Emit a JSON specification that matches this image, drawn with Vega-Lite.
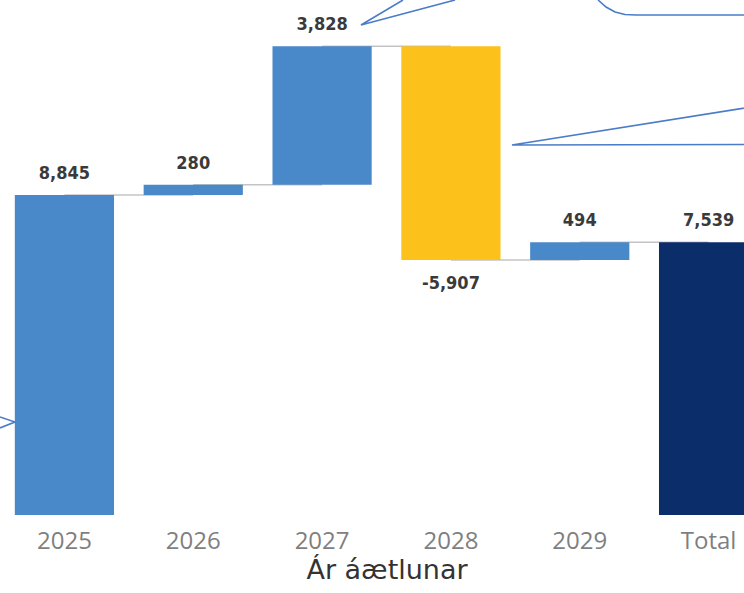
{
  "$schema": "https://vega.github.io/schema/vega-lite/v6.json",
  "width": 773,
  "height": 515,
  "autosize": {"type": "none"},
  "padding": {"top": 0, "left": 0, "right": 0, "bottom": 78},
  "background": "white",
  "config": {"view": {"stroke": null}},
  "datasets": {
    "bars": [
      {"cat": "2025", "start": 0, "end": 8845, "label": "8,845", "kind": "inc", "next": "2026"},
      {"cat": "2026", "start": 8845, "end": 9125, "label": "280", "kind": "inc", "next": "2027"},
      {"cat": "2027", "start": 9125, "end": 12953, "label": "3,828", "kind": "inc", "next": "2028"},
      {"cat": "2028", "start": 12953, "end": 7046, "label": "-5,907", "kind": "dec", "next": "2029"},
      {"cat": "2029", "start": 7046, "end": 7540, "label": "494", "kind": "inc", "next": "Total"},
      {"cat": "Total", "start": 0, "end": 7539, "label": "7,539", "kind": "total", "next": "Total"}
    ],
    "callouts": [
      {"g": "a", "i": 0, "u": 3.128, "v": 14234},
      {"g": "a", "i": 1, "u": 2.802, "v": 13543},
      {"g": "a", "i": 2, "u": 3.532, "v": 14234},
      {"g": "r", "i": 0, "u": 4.642, "v": 14234},
      {"g": "r", "i": 1, "u": 4.704, "v": 14041},
      {"g": "r", "i": 2, "u": 4.774, "v": 13903},
      {"g": "r", "i": 3, "u": 4.851, "v": 13834},
      {"g": "r", "i": 4, "u": 4.937, "v": 13820},
      {"g": "r", "i": 5, "u": 6.0, "v": 13820},
      {"g": "b", "i": 0, "u": 6.0, "v": 11374},
      {"g": "b", "i": 1, "u": 3.974, "v": 10227},
      {"g": "b", "i": 2, "u": 6.0, "v": 10241},
      {"g": "c", "i": 0, "u": 0, "v": 2709},
      {"g": "c", "i": 1, "u": 0.1164, "v": 2570},
      {"g": "c", "i": 2, "u": 0, "v": 2405}
    ]
  },
  "layer": [
    {
      "data": {"name": "bars"},
      "layer": [
        {
          "transform": [{"filter": "datum.kind != 'total'"}],
          "mark": {"type": "rule", "color": "#c4c4c4", "strokeWidth": 1.5},
          "encoding": {
            "x": {
              "field": "cat",
              "type": "nominal",
              "sort": ["2025", "2026", "2027", "2028", "2029", "Total"],
              "scale": {"domain": ["2025", "2026", "2027", "2028", "2029", "Total"], "paddingInner": 0.23, "paddingOuter": 0.115},
              "axis": {
                "orient": "bottom",
                "title": "Ár áætlunar",
                "labelAngle": 0,
                "domain": false,
                "ticks": false,
                "tickSize": 0,
                "labelFont": "Open Sans",
                "labelFontSize": 24,
                "labelColor": "#7f7f7f",
                "labelPadding": 14,
                "titleFont": "DejaVu Sans",
                "titleFontSize": 27,
                "titleFontWeight": "normal",
                "titleColor": "#333333",
                "titlePadding": 4,
                "grid": false
              }
            },
            "x2": {"field": "next"},
            "y": {"field": "end", "type": "quantitative", "scale": {"domain": [0, 14234], "nice": false}, "axis": null}
          }
        },
        {
          "mark": {"type": "bar"},
          "encoding": {
            "x": {"field": "cat", "type": "nominal", "sort": ["2025", "2026", "2027", "2028", "2029", "Total"]},
            "y": {"field": "start", "type": "quantitative"},
            "y2": {"field": "end"},
            "color": {
              "field": "kind",
              "type": "nominal",
              "scale": {"domain": ["inc", "dec", "total"], "range": ["#4a89c9", "#fdc11c", "#0b2d6a"]},
              "legend": null
            }
          }
        },
        {
          "transform": [{"filter": "datum.kind != 'dec'"}],
          "mark": {"type": "text", "baseline": "alphabetic", "dy": -16, "font": "DejaVu Sans Condensed", "fontSize": 18, "fontWeight": "bold", "color": "#3a3a3a"},
          "encoding": {
            "x": {"field": "cat", "type": "nominal", "sort": ["2025", "2026", "2027", "2028", "2029", "Total"]},
            "y": {"field": "end", "type": "quantitative"},
            "text": {"field": "label"}
          }
        },
        {
          "transform": [{"filter": "datum.kind == 'dec'"}],
          "mark": {"type": "text", "baseline": "top", "dy": 15, "font": "DejaVu Sans Condensed", "fontSize": 18, "fontWeight": "bold", "color": "#3a3a3a"},
          "encoding": {
            "x": {"field": "cat", "type": "nominal", "sort": ["2025", "2026", "2027", "2028", "2029", "Total"]},
            "y": {"field": "end", "type": "quantitative"},
            "text": {"field": "label"}
          }
        }
      ]
    },
    {
      "data": {"name": "callouts"},
      "mark": {"type": "line", "color": "#4a7cc8", "strokeWidth": 1.6, "clip": false},
      "encoding": {
        "x": {"field": "u", "type": "quantitative", "scale": {"domain": [0, 6], "nice": false, "zero": false}, "axis": null},
        "y": {"field": "v", "type": "quantitative"},
        "detail": {"field": "g"},
        "order": {"field": "i", "type": "quantitative"}
      }
    }
  ],
  "resolve": {"scale": {"x": "independent"}}
}
